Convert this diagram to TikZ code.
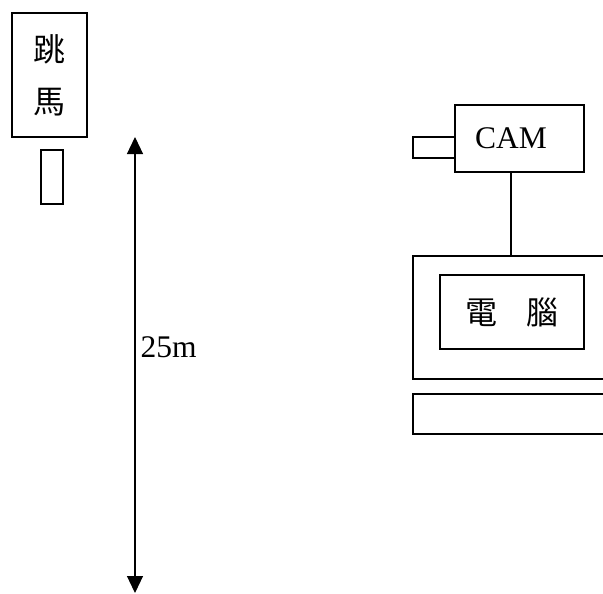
\documentclass[tikz,border=0pt]{standalone}
\usepackage{fontspec}
\setmainfont{Liberation Serif}
\newfontfamily\cjk{Noto Sans CJK TC}
\usetikzlibrary{arrows.meta}
\begin{document}
\begin{tikzpicture}[x=1pt,y=-1pt,line width=1.2pt,
  box/.style={draw,rectangle,inner sep=0pt,outer sep=0pt},
  cjktext/.style={font=\cjk\fontsize{32}{52}\selectfont},
  lattext/.style={font=\fontsize{31.5}{36}\selectfont},
  tip/.style={Triangle[length=17pt,width=16pt]}]
\useasboundingbox (0,0) rectangle (603,594);
% jumping horse
\node[box,minimum width=75pt,minimum height=124pt,align=center,cjktext] (horse) at (49.5,75) {跳\\馬};
\node[box,minimum width=22pt,minimum height=54pt] (board) at (52,177) {};
% distance arrow
\coordinate (top) at (135,137);
\coordinate (bot) at (135,593);
\draw[{Triangle[length=17pt,width=16pt]}-{Triangle[length=17pt,width=16pt]}] (top) -- (bot);
\node[anchor=west,lattext,inner sep=0pt] (dist) at (140,347) {25m};
% camera
\node[box,minimum width=129pt,minimum height=67pt,lattext] (cam) at (519.5,138.5) {\hspace*{-17pt}CAM};
\node[box,minimum width=42pt,minimum height=21pt] (lens) at (434,147.5) {};
% computer
\node[box,minimum width=207pt,minimum height=123pt] (monitor) at (516.5,317.5) {};
\node[box,minimum width=144pt,minimum height=74pt,cjktext] (screen) at (512,312) {電\hspace{0.9em}腦};
\node[box,minimum width=207pt,minimum height=40pt] (keyboard) at (516.5,414) {};
\coordinate (c1) at ([xshift=-8.5pt]cam.south);
\draw (c1) -- (c1 |- monitor.north);
\end{tikzpicture}
\end{document}
